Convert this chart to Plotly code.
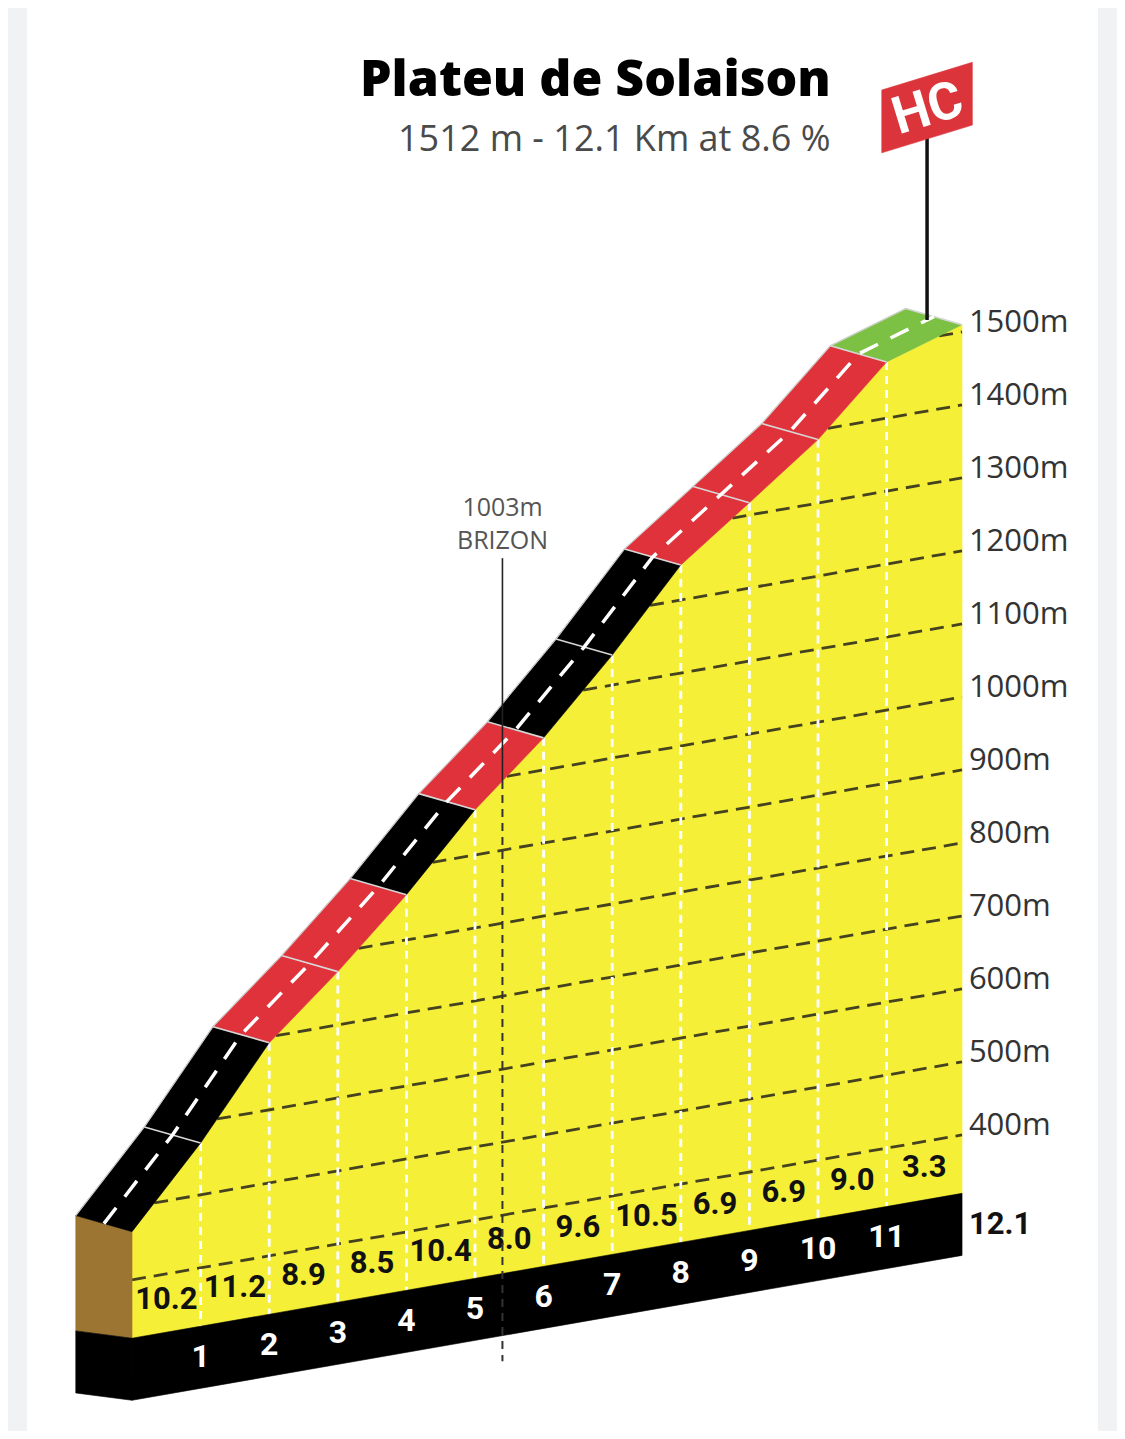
import numpy as np
import plotly.graph_objects as go

# --- climb data ---
KM_MARKS = [0, 1, 2, 3, 4, 5, 6, 7, 8, 9, 10, 11, 12.1]
ALTITUDE = [466, 571, 692, 773, 862, 962, 1044, 1141, 1248, 1317, 1387, 1477, 1510]
GRADIENT = [10.2, 11.2, 8.9, 8.5, 10.4, 8.0, 9.6, 10.5, 6.9, 6.9, 9.0, 3.3]
ROAD_CLASS = ["black", "black", "red", "red", "black", "red",
              "black", "black", "red", "red", "red", "green"]
KM_LABELS = ["1", "2", "3", "4", "5", "6", "7", "8", "9", "10", "11"]
ALT_TICKS = [400, 500, 600, 700, 800, 900, 1000, 1100, 1200, 1300, 1400, 1500]
ALT_LABELS = [f"{a}m" for a in ALT_TICKS]

CLIMB = "Plateu de Solaison"
SUBTITLE = "1512 m - 12.1 Km at 8.6 %"
CATEGORY = "HC"
TOTAL_LABEL = "12.1"
POINT_NAME = "BRIZON"
POINT_ALT = "1003m"
POINT_KM = 5.4

# --- colours ---
YELLOW = "#f6ef38"
BROWN = "#9c7532"
ROAD = {"black": "#000000", "red": "#e0323a", "green": "#7cc143"}
FLAG_RED = "#dc343b"

# --- oblique view: level lines climb to the right, road has a width going back-left ---
SHEAR = 16.4            # apparent rise (m) of a level line per km
DEPTH = (-0.82, 22.0)   # road width vector in (km, m)
BASE_TOP, BASE_BOT = 320, 235
CAP_RISE = 10
GRAD_ROW, KM_ROW = 362, 275


def P(km, alt, d=0.0):
    km = np.asarray(km, dtype=float)
    alt = np.asarray(alt, dtype=float)
    return km + d * DEPTH[0], alt + SHEAR * km + d * DEPTH[1]


def alt_at(km):
    return float(np.interp(km, KM_MARKS, ALTITUDE))


fig = go.Figure()


def poly(pts, colour):
    xs = [p[0] for p in pts] + [pts[0][0]]
    ys = [p[1] for p in pts] + [pts[0][1]]
    fig.add_trace(go.Scatter(x=xs, y=ys, mode="lines", fill="toself", fillcolor=colour,
                             line=dict(color=colour, width=0.6), hoverinfo="skip"))


def line(x, y, colour, width, dash="solid"):
    fig.add_trace(go.Scatter(x=x, y=y, mode="lines", hoverinfo="skip",
                             line=dict(color=colour, width=width, dash=dash)))


end = KM_MARKS[-1]

# yellow front face
face = [P(0, BASE_TOP)] + [P(k, a) for k, a in zip(KM_MARKS, ALTITUDE)] + [P(end, BASE_TOP)]
poly(face, YELLOW)

# level lines, only where they sit on the face
for lvl in ALT_TICKS:
    k0 = float(np.interp(lvl, ALTITUDE, KM_MARKS)) if lvl > ALTITUDE[0] else 0.0
    x0, y0 = P(k0, lvl)
    x1, y1 = P(end, lvl)
    line([x0, x1], [y0, y1], "#45421f", 2.8, "14px,8px")

# km lines
for k, a in zip(KM_MARKS[1:-1], ALTITUDE[1:-1]):
    x0, y0 = P(k, a)
    x1, y1 = P(k, BASE_TOP)
    line([x0, x1], [y0, y1], "white", 2.8, "8px,6px")

# start cap
fx, fy = P(0, ALTITUDE[0])
bx, by = P(0, ALTITUDE[0], 1)
poly([(fx, fy), (bx, by), (bx, BASE_TOP + CAP_RISE), (0, BASE_TOP)], BROWN)
poly([(0, BASE_TOP), (bx, BASE_TOP + CAP_RISE), (bx, BASE_BOT + CAP_RISE), (0, BASE_BOT)], "#000000")

# base strip
poly([P(0, BASE_BOT), P(end, BASE_BOT), P(end, BASE_TOP), P(0, BASE_TOP)], "#000000")

# road surface, one tile per km
for i, cls in enumerate(ROAD_CLASS):
    k0, k1 = KM_MARKS[i], KM_MARKS[i + 1]
    a0, a1 = ALTITUDE[i], ALTITUDE[i + 1]
    poly([P(k0, a0), P(k1, a1), P(k1, a1, 1), P(k0, a0, 1)], ROAD[cls])

bx, by = P(KM_MARKS, ALTITUDE, 1)
line(bx, by, "#cfcfcf", 1.2)
for k, a in zip(KM_MARKS[1:], ALTITUDE[1:]):
    x0, y0 = P(k, a)
    x1, y1 = P(k, a, 1)
    line([x0, x1], [y0, y1], "#d6d6d6", 1.6)

cx, cy = P(KM_MARKS, ALTITUDE, 0.5)
line(cx, cy, "white", 3.5, "20px,14px")

# gradients and km numbers
BOLD = "Roboto, Arial"
mids = [(KM_MARKS[i] + KM_MARKS[i + 1]) / 2 for i in range(len(GRADIENT))]
gx, gy = P(mids, [GRAD_ROW] * len(mids))
fig.add_trace(go.Scatter(x=gx, y=gy, mode="text", text=[f"{g:.1f}" for g in GRADIENT],
                         textfont=dict(family=BOLD, size=31, color="#111111", weight="bold"),
                         hoverinfo="skip"))
kx, ky = P(KM_MARKS[1:-1], [KM_ROW] * len(KM_LABELS))
fig.add_trace(go.Scatter(x=kx, y=ky, mode="text", text=KM_LABELS,
                         textfont=dict(family=BOLD, size=32, color="white", weight="bold"),
                         hoverinfo="skip"))
tx, ty = P(end, KM_ROW)
fig.add_trace(go.Scatter(x=[tx + 0.1], y=[ty], mode="text", text=[TOTAL_LABEL],
                         textposition="middle right",
                         textfont=dict(family=BOLD, size=31, color="#111111", weight="bold"),
                         hoverinfo="skip"))

# altitude labels at the right end of the level lines
lx, ly = P([end] * len(ALT_TICKS), ALT_TICKS)
fig.add_trace(go.Scatter(x=lx + 0.1, y=ly + 10, mode="text", text=ALT_LABELS,
                         textposition="middle right",
                         textfont=dict(family="Open Sans, Noto Sans", size=31, color="#333333"),
                         hoverinfo="skip"))

# intermediate point marker
pa = alt_at(POINT_KM)
px0, py0 = P(POINT_KM, pa)
_, py_low = P(POINT_KM, 200)
_, py_top = P(POINT_KM, 1300)
line([px0, px0], [py0, py_low], "#333333", 2, "8px,6px")
line([px0, px0], [py0, py_top], "#222222", 1.6)
fig.add_annotation(x=px0, y=py_top, yanchor="bottom", yshift=0, showarrow=False,
                   text=f"{POINT_ALT}<br>{POINT_NAME}", align="center",
                   font=dict(family="Open Sans, Noto Sans", size=25, color="#555555"))

# summit flag
pole_x, pole_y = P(end - 0.1, alt_at(end - 0.1), 0.5)
pole_top = pole_y + 248
line([pole_x, pole_x], [pole_y, pole_top + 20], "#111111", 3.5)
hw, skew, fh = 0.66, 19, 86
poly([(pole_x - hw, pole_top - skew), (pole_x + hw, pole_top + skew),
      (pole_x + hw, pole_top + skew + fh), (pole_x - hw, pole_top - skew + fh)], FLAG_RED)
fig.add_annotation(x=pole_x, y=pole_top + fh / 2, showarrow=False, text=CATEGORY, textangle=-17,
                   font=dict(family=BOLD, size=52, color="white", weight="bold"))

# title block
fig.add_annotation(xref="paper", yref="paper", x=0.744, y=0.9515, xanchor="right", yanchor="middle",
                   showarrow=False, text=CLIMB,
                   font=dict(family="Open Sans, Noto Sans", size=50, color="#000000", weight=800))
fig.add_annotation(xref="paper", yref="paper", x=0.744, y=0.9093, xanchor="right", yanchor="middle",
                   showarrow=False, text=SUBTITLE,
                   font=dict(family="Open Sans, Noto Sans", size=36, color="#4a4a4a"))

# grey page margins
for x0, x1 in [(0, 0.0171), (0.9829, 1)]:
    fig.add_shape(type="rect", xref="paper", yref="paper", x0=x0, x1=x1, y0=0, y1=1,
                  fillcolor="#f1f2f4", line_width=0, layer="below")

fig.update_layout(
    width=1109, height=1423,
    margin=dict(l=0, r=0, t=0, b=0),
    paper_bgcolor="white", plot_bgcolor="white",
    showlegend=False,
    xaxis=dict(range=[-1.808, 14.359], visible=False, fixedrange=True),
    yaxis=dict(range=[192.9, 2142.2], visible=False, fixedrange=True),
)

fig.write_html("out.html")
